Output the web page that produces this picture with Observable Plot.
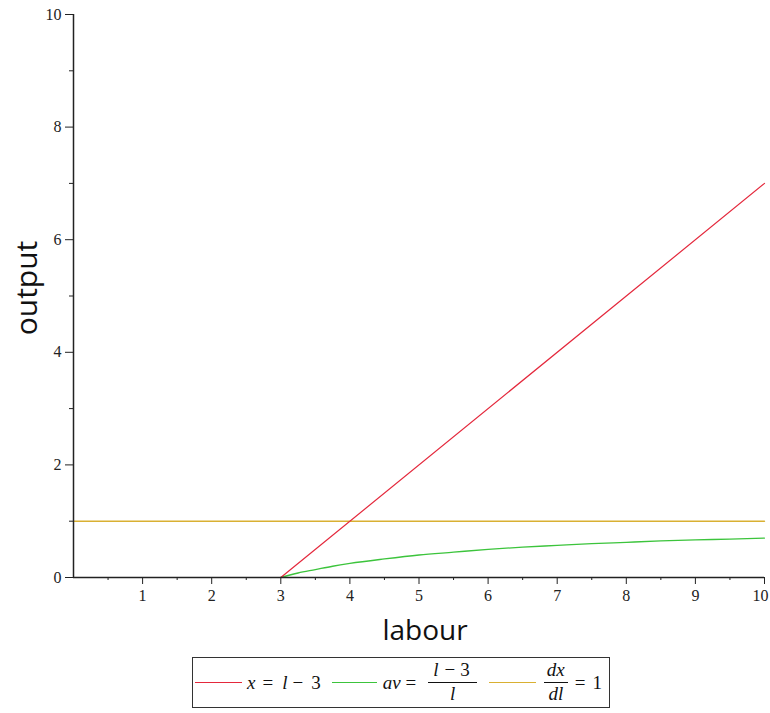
<!DOCTYPE html>
<html>
<head>
<meta charset="utf-8">
<script src="https://cdn.jsdelivr.net/npm/d3@7"></script>
<script src="https://cdn.jsdelivr.net/npm/@observablehq/plot@0.6"></script>
<style>
  html, body { margin: 0; padding: 0; background: white; }
  #wrap { position: relative; width: 770px; height: 713px; overflow: hidden; }
  #wrap svg { overflow: visible; }
  #legend {
    position: absolute; left: 192px; top: 657px; width: 418px; height: 51px;
    box-sizing: border-box; border: 1px solid #333; background: white;
    display: flex; align-items: center; padding-left: 2px;
    font-family: "Liberation Serif", "DejaVu Serif", serif; font-size: 19px; color: #111;
    white-space: nowrap;
  }
  #legend > span { flex: none; }
  .sw { display: inline-block; height: 1.5px; }
  .frac { display: inline-flex; flex-direction: column; align-items: center; line-height: 1.08; }
  .frac .num { border-bottom: 1px solid #111; display: flex; }
  .frac .den { padding-top: 1px; }
  i { font-style: italic; }
</style>
</head>
<body>
<div id="wrap"></div>
<script>
// ---- data ----
const xMajorTicks = [1, 2, 3, 4, 5, 6, 7, 8, 9, 10];
const xMinorTicks = [0.5, 1.5, 2.5, 3.5, 4.5, 5.5, 6.5, 7.5, 8.5, 9.5];
const yMajorTicks = [0, 2, 4, 6, 8, 10];
const yMinorTicks = [1, 3, 5, 7, 9];

// x = l - 3 (red)
const redLabour = [3, 10];
const redOutput = [0, 7];

// av = (l-3)/l (green)
const greenLabour = [3, 3.25, 3.5, 3.75, 4, 4.5, 5, 5.5, 6, 6.5, 7, 7.5, 8, 8.5, 9, 9.5, 10];
const greenOutput = [0, 0.08, 0.14, 0.2, 0.25, 0.33, 0.4, 0.45, 0.5, 0.54, 0.57, 0.6, 0.625, 0.65, 0.67, 0.68, 0.7];

// dx/dl = 1 (gold)
const goldLabour = [0, 10];
const goldOutput = [1, 1];

const seriesColors = ["#e4283c", "#3cc43c", "#d9b032"];

const red = redLabour.map((l, i) => ({l, v: redOutput[i]}));
const green = greenLabour.map((l, i) => ({l, v: greenOutput[i]}));
const gold = goldLabour.map((l, i) => ({l, v: goldOutput[i]}));

const chart = Plot.plot({
  width: 770,
  height: 650,
  marginLeft: 73,
  marginRight: 6,
  marginTop: 14,
  marginBottom: 73,
  x: {domain: [0, 10]},
  y: {domain: [0, 10]},
  style: {fontFamily: "'Liberation Serif', 'DejaVu Serif', serif", fontSize: "16px", color: "#222", background: "white"},
  marks: [
    Plot.axisX({ticks: xMinorTicks, tickSize: 3, text: null, label: null, stroke: "#222"}),
    Plot.axisX({ticks: xMajorTicks, tickSize: 7, tickPadding: 5, label: null, stroke: "#222",
      tickFormat: d => String(d)}),
    Plot.axisY({ticks: yMinorTicks, tickSize: 4, text: null, label: null, stroke: "#222"}),
    Plot.axisY({ticks: yMajorTicks, tickSize: 8, tickPadding: 4, label: null, stroke: "#222", tickFormat: d => String(d)}),
    Plot.line(gold, {x: "l", y: "v", stroke: seriesColors[2], strokeWidth: 1.4}),
    Plot.line(green, {x: "l", y: "v", stroke: seriesColors[1], strokeWidth: 1.3, curve: "monotone-x"}),
    Plot.line(red, {x: "l", y: "v", stroke: seriesColors[0], strokeWidth: 1.2}),
    Plot.ruleX([0], {stroke: "#222", strokeWidth: 1.5}),
    Plot.ruleY([0], {stroke: "#222", strokeWidth: 1.5}),
    Plot.text(["labour"], {frameAnchor: "bottom", lineAnchor: "bottom", dy: 62, dx: 6, fontSize: 28, fill: "#111",
      fontFamily: "'Open Sans', 'DejaVu Sans', sans-serif"}),
    Plot.text(["output"], {frameAnchor: "left", textAnchor: "middle", lineAnchor: "middle", dx: -46, dy: -8, rotate: -90, fontSize: 30, fill: "#111",
      fontFamily: "'Open Sans', 'DejaVu Sans', sans-serif"})
  ]
});
const wrap = document.getElementById("wrap");
wrap.appendChild(chart);

// nudge the x-axis "10" label so it stays inside the page like the reference
d3.select(chart).selectAll("text")
  .filter(function () { return this.textContent === "10"; })
  .each(function () {
    if (this.getBoundingClientRect().right > 765) this.setAttribute("dx", "-4");
  });

// ---- legend ----
const m = px => `<span style="display:inline-block;width:${px}px"></span>`;
const legend = document.createElement("div");
legend.id = "legend";
legend.innerHTML =
  `<span class="sw" style="width:47px;background:${seriesColors[0]}"></span>${m(5)}` +
  `<i>x</i>${m(7)}<span>=</span>${m(9)}<i>l</i>${m(5)}<span>&minus;</span>${m(8)}<span>3</span>${m(11)}` +
  `<span class="sw" style="width:45px;background:${seriesColors[1]}"></span>${m(6)}` +
  `<i>av</i>${m(5)}<span>=</span>${m(12)}` +
  `<span class="frac"><span class="num" style="padding:0 7px 1px 5px"><i>l</i>${m(6)}<span>&minus;</span>${m(5)}<span>3</span></span><span class="den"><i>l</i></span></span>${m(12)}` +
  `<span class="sw" style="width:47px;background:${seriesColors[2]}"></span>${m(8)}` +
  `<span class="frac"><span class="num" style="padding:0 3px 1px 3px"><i>dx</i></span><span class="den"><i>dl</i></span></span>${m(7)}` +
  `<span>=</span>${m(7)}<span>1</span>`;
wrap.appendChild(legend);
</script>
</body>
</html>
